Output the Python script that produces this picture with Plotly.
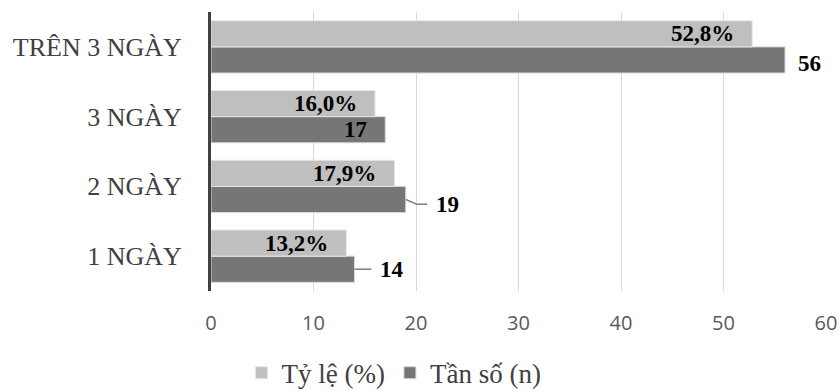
import plotly.graph_objects as go

categories = ["1 NGÀY", "2 NGÀY", "3 NGÀY", "TRÊN 3 NGÀY"]
ty_le = [13.2, 17.9, 16.0, 52.8]
tan_so = [14, 19, 17, 56]
ty_le_labels = ["13,2%", "17,9%", "16,0%", "52,8%"]
tan_so_labels = ["14", "19", "17", "56"]
# label placement for the count series: inside end, outside, or outside with leader line
tan_so_pos = ["leader", "leader", "inside", "outside"]

LIGHT = "#BFBFBF"
DARK = "#767676"
SERIF = "Liberation Serif"

fig = go.Figure()
fig.add_trace(go.Bar(
    y=categories, x=tan_so, orientation="h", name="Tần số (n)",
    marker=dict(color=DARK, line=dict(color="#D9D9D9", width=1)),
    hoverinfo="x+y",
))
fig.add_trace(go.Bar(
    y=categories, x=ty_le, orientation="h", name="Tỷ lệ (%)",
    marker=dict(color=LIGHT, line=dict(color="#E6E6E6", width=1)),
    hoverinfo="x+y",
))

BARGAP = 0.25
half = (1 - BARGAP) / 2  # width of one bar in category units
off_dark = -half / 2
off_light = half / 2

annotations = []
shapes = []
label_font = dict(family=SERIF, size=23, color="#000000")
for i, cat in enumerate(categories):
    annotations.append(dict(
        x=ty_le[i], y=i + off_light, xref="x", yref="y",
        text="<b>%s</b>" % ty_le_labels[i], showarrow=False,
        xanchor="right", yanchor="middle", xshift=-16, yshift=0,
        font=label_font,
    ))
    v = tan_so[i]
    yc = i + off_dark
    if tan_so_pos[i] == "inside":
        annotations.append(dict(
            x=v, y=yc, xref="x", yref="y", text="<b>%s</b>" % tan_so_labels[i],
            showarrow=False, xanchor="right", yanchor="middle", xshift=-16,
            font=label_font,
        ))
    elif tan_so_pos[i] == "outside":
        annotations.append(dict(
            x=v, y=yc, xref="x", yref="y", text="<b>%s</b>" % tan_so_labels[i],
            showarrow=False, xanchor="left", yanchor="middle", xshift=11, yshift=-4,
            font=label_font,
        ))
    else:
        drop = 0.07 if i == 1 else 0.0
        run1 = 1.1 if i == 1 else 0.0
        end = v + (2.1 if i == 1 else 1.65)
        path = "M %f,%f L %f,%f L %f,%f" % (v, yc, v + run1, yc - drop, end, yc - drop)
        shapes.append(dict(type="path", path=path, xref="x", yref="y",
                           line=dict(color="#7F7F7F", width=1.5)))
        annotations.append(dict(
            x=end, y=yc - drop, xref="x", yref="y", text="<b>%s</b>" % tan_so_labels[i],
            showarrow=False, xanchor="left", yanchor="middle", xshift=7, yshift=0,
            font=label_font,
        ))

fig.update_layout(
    width=840, height=392,
    margin=dict(l=211, r=14, t=12, b=101, autoexpand=False),
    paper_bgcolor="white", plot_bgcolor="white",
    barmode="group", bargap=BARGAP, bargroupgap=0,
    showlegend=True,
    legend=dict(
        orientation="h", traceorder="reversed",
        xref="container", yref="container",
        x=0.469, xanchor="center", y=0.048, yanchor="middle",
        font=dict(family=SERIF, size=27, color="#404040"),
        itemwidth=30, bgcolor="rgba(0,0,0,0)",
    ),
    xaxis=dict(
        range=[0, 60], tickvals=[0, 10, 20, 30, 40, 50, 60],
        showgrid=True, gridcolor="#D9D9D9", gridwidth=1,
        zeroline=False, showline=False,
        tickfont=dict(family="Open Sans", size=20, color="#595959"),
        ticklabelstandoff=18,
        fixedrange=True,
    ),
    yaxis=dict(
        type="category", categoryorder="array", categoryarray=categories,
        showgrid=False, zeroline=False,
        showline=True, linecolor="#404040", linewidth=3,
        tickfont=dict(family=SERIF, size=26, color="#404040"),
        ticklabelstandoff=21,
        fixedrange=True,
    ),
    annotations=annotations,
    shapes=shapes,
    font=dict(family=SERIF),
)

fig.write_html("out.html")
